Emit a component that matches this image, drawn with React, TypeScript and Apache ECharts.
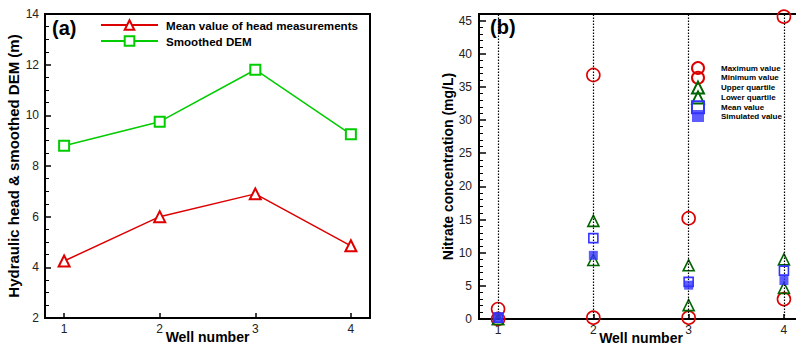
import React, { useEffect, useRef } from "react";
import * as echarts from "echarts";

const wells = [1, 2, 3, 4];
const wellTicks = [1, 2, 3, 4];

// Panel (a)
const meanHead = [4.25, 6.0, 6.9, 4.85];
const smoothedDem = [8.8, 9.75, 11.8, 9.25];

// Panel (b)
const maxValue = [1.5, 36.8, 15.2, 45.6];
const minValue = [0, 0.2, 0.2, 3.0];
const upperQuartile = [0, 14.8, 8.1, 9.0];
const lowerQuartile = [0, 8.9, 2.1, 4.7];
const meanValue = [0.2, 12.2, 5.6, 7.3];
const simulatedValue = [0.2, 9.6, 5.1, 5.8];

const FONT = "Liberation Sans, Arial, sans-serif";
const RED = "#dd0000";
const GREEN = "#00cc00";
const DKGREEN = "#006600";
const BLUE = "#3333ff";

const pairs = (vals: number[]) => wells.map((w, i) => [w, vals[i]]);

export default function App() {
  const ref = useRef<HTMLDivElement>(null);
  useEffect(() => {
    if (!ref.current) return;
    const chart = echarts.init(ref.current, undefined, { renderer: "svg" });

    const xAxisCommon = (gridIndex: number) => ({
      type: "value",
      gridIndex,
      min: 0.8,
      max: 4.2,
      name: "Well number",
      nameLocation: "middle",
      nameGap: 12,
      nameMoveOverlap: false,
      nameTextStyle: { fontFamily: FONT, fontWeight: "bold", fontSize: 14, color: "#000" },
      axisLine: { show: true, onZero: false, lineStyle: { color: "#000", width: 2 } },
      axisTick: { show: true, inside: true, length: 5, customValues: wellTicks, lineStyle: { color: "#000", width: 1.5 } },
      axisLabel: { customValues: wellTicks, fontFamily: FONT, fontSize: 12, color: "#222", margin: 5 },
      splitLine: { show: false },
    });

    const scatter = (name: string, vals: number[], symbol: string, size: number, style: any, z: number) => ({
      name,
      type: "scatter",
      xAxisIndex: 1,
      yAxisIndex: 1,
      symbol,
      symbolSize: size,
      symbolKeepAspect: true,
      data: pairs(vals),
      itemStyle: style,
      z,
      silent: true,
    });

    const openStyle = (c: string) => ({ color: "rgba(255,255,255,0)", borderColor: c, borderWidth: 1.6, opacity: 1 });

    chart.setOption({
      animation: false,
      backgroundColor: "#fff",
      grid: [
        { left: 45, top: 14, width: 325, height: 304, show: true, borderColor: "#000", borderWidth: 2, backgroundColor: "transparent", outerBoundsMode: "none", containLabel: false },
        { left: 479, top: 14, width: 324, height: 305, show: true, borderColor: "#000", borderWidth: 2, backgroundColor: "transparent", outerBoundsMode: "none", containLabel: false },
      ],
      xAxis: [xAxisCommon(0), xAxisCommon(1)],
      yAxis: [
        {
          type: "value",
          gridIndex: 0,
          min: 2,
          max: 14,
          interval: 2,
          name: "Hydraulic head & smoothed DEM (m)",
          nameLocation: "middle",
          nameGap: 24,
          nameTextStyle: { fontFamily: FONT, fontWeight: "bold", fontSize: 15, color: "#000" },
          axisLine: { show: true, onZero: false, lineStyle: { color: "#000", width: 2 } },
          axisTick: { show: true, inside: true, length: 6, lineStyle: { color: "#000", width: 1.5 } },
          minorTick: { show: true, splitNumber: 4, length: 4, lineStyle: { color: "#000", width: 1 } },
          axisLabel: { fontFamily: FONT, fontSize: 12, color: "#222", margin: 6 },
          splitLine: { show: false },
        },
        {
          type: "value",
          gridIndex: 1,
          min: 0,
          max: 46,
          interval: 5,
          name: "Nitrate concentration (mg/L)",
          nameLocation: "middle",
          nameGap: 22,
          nameTextStyle: { fontFamily: FONT, fontWeight: "bold", fontSize: 14, color: "#000" },
          axisLine: { show: true, onZero: false, lineStyle: { color: "#000", width: 2 } },
          axisTick: { show: true, inside: true, length: 7, lineStyle: { color: "#000", width: 1.5 } },
          minorTick: { show: true, splitNumber: 5, length: 4, lineStyle: { color: "#000", width: 1 } },
          axisLabel: { fontFamily: FONT, fontSize: 12, color: "#222", margin: 7, showMaxLabel: false },
          splitLine: { show: false },
        },
      ],
      legend: [
        {
          left: 95,
          top: 14,
          orient: "vertical",
          itemWidth: 57,
          itemHeight: 12,
          itemGap: 4,
          textStyle: { fontFamily: FONT, fontWeight: "bold", fontSize: 11.6, color: "#000", padding: [0, 0, 0, 3] },
          data: ["Mean value of head measurements", "Smoothed DEM"],
          selectedMode: false,
        },
        {
          left: 686,
          top: 56,
          orient: "vertical",
          itemWidth: 12,
          itemHeight: 12,
          itemGap: -4.2,
          symbolKeepAspect: true,
          textStyle: { fontFamily: FONT, fontWeight: "bold", fontSize: 8, color: "#000", padding: [0, 0, 0, 12] },
          data: ["Maximum value", "Minimum value", "Upper quartile", "Lower quartile", "Mean value", "Simulated value"],
          selectedMode: false,
        },
      ],
      graphic: [
        { type: "text", left: 52, top: 18, style: { text: "(a)", font: `bold 20px ${FONT}`, fill: "#000" } },
        { type: "text", left: 490, top: 17, style: { text: "(b)", font: `bold 20px ${FONT}`, fill: "#000" } },
      ],
      series: [
        {
          name: "Mean value of head measurements",
          type: "line",
          xAxisIndex: 0,
          yAxisIndex: 0,
          data: pairs(meanHead),
          symbol: "emptyTriangle",
          symbolSize: 11,
          lineStyle: { color: RED, width: 1.5 },
          itemStyle: { color: RED, borderWidth: 1.6 },
          z: 3,
        },
        {
          name: "Smoothed DEM",
          type: "line",
          xAxisIndex: 0,
          yAxisIndex: 0,
          data: pairs(smoothedDem),
          symbol: "emptyRect",
          symbolSize: 10,
          lineStyle: { color: GREEN, width: 1.5 },
          itemStyle: { color: GREEN, borderWidth: 1.6 },
          z: 3,
        },
        {
          name: "wells",
          type: "line",
          xAxisIndex: 1,
          yAxisIndex: 1,
          data: [],
          silent: true,
          z: 1,
          markLine: {
            silent: true,
            symbol: ["none", "none"],
            label: { show: false },
            lineStyle: { color: "#000", type: [1.5, 1.5], width: 1.2 },
            emphasis: { disabled: true },
            data: wells.map((w) => ({ xAxis: w })),
          },
        },
        scatter("Maximum value", maxValue, "circle", 13, openStyle(RED), 3),
        scatter("Minimum value", minValue, "circle", 13, openStyle(RED), 3),
        scatter("Upper quartile", upperQuartile, "triangle", 11, openStyle(DKGREEN), 4),
        scatter("Lower quartile", lowerQuartile, "triangle", 11, openStyle(DKGREEN), 4),
        scatter("Mean value", meanValue, "rect", 9, openStyle(BLUE), 5),
        scatter("Simulated value", simulatedValue, "rect", 9, { color: BLUE, borderColor: BLUE, borderWidth: 0 }, 6),
      ],
    });
    return () => chart.dispose();
  }, []);
  return <div ref={ref} style={{ position: "fixed", left: 0, top: 0, width: 796, height: 348 }} />;
}
